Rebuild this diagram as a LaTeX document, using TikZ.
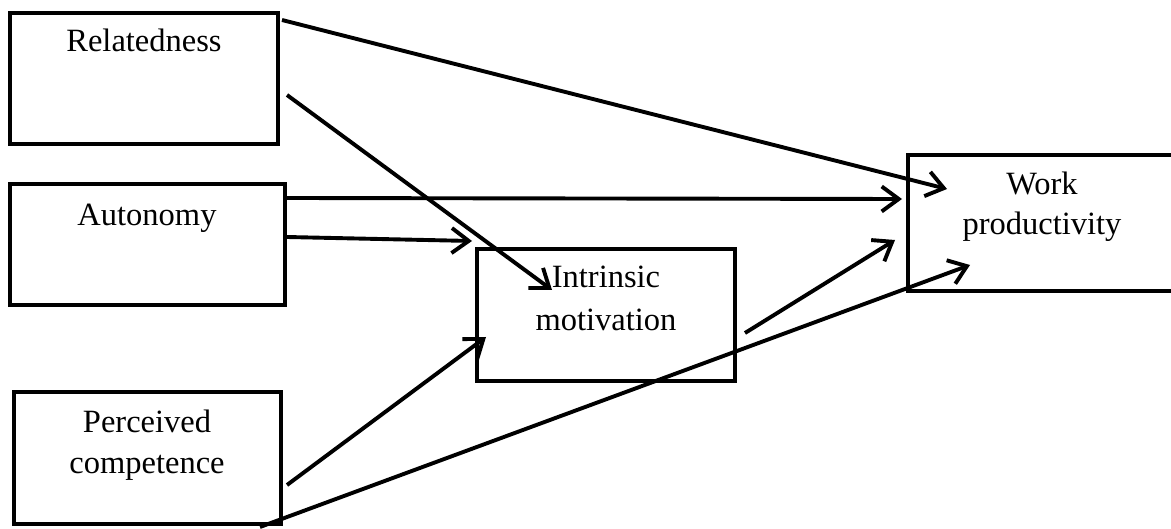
\documentclass[tikz,border=0pt]{standalone}
\usepackage{fontspec}
\setmainfont{Liberation Serif}
\usetikzlibrary{arrows.meta}

\tikzset{
  box/.style={draw, line width=4pt, rectangle, inner sep=0pt, fill=white},
  lbl/.style={anchor=base, inner sep=0pt, font=\fontsize{32.5}{42}\selectfont},
  link/.style={line width=3.9pt, -{Straight Barb[length=17pt,width=25pt,line width=3.9pt]}}
}

\begin{document}
\begin{tikzpicture}[x=1pt, y=-1pt]
  \clip (0,0) rectangle (1171,529);
  \fill[white] (0,0) rectangle (1171,529);

  % boxes
  \node[box, minimum width=268pt, minimum height=131pt] (rel) at (144,78.5) {};
  \node[box, minimum width=275pt, minimum height=121pt] (aut) at (147.5,244.5) {};
  \node[box, minimum width=267pt, minimum height=132pt] (pc)  at (147.5,458) {};
  \node[box, minimum width=258pt, minimum height=132pt] (im)  at (606,315) {};
  \node[box, minimum width=272pt, minimum height=136pt] (wp)  at (1044,223) {};

  % labels
  \node[lbl] (relT) at (144,52) {Relatedness};
  \node[lbl] (autT) at (147,226) {Autonomy};
  \node[lbl] (pcT1) at (147,432) {Perceived};
  \node[lbl] (pcT2) at (147,474) {competence};
  \node[lbl] (imT1) at (606,288) {Intrinsic};
  \node[lbl] (imT2) at (606,331) {motivation};
  \node[lbl] (wpT1) at (1042,195) {Work};
  \node[lbl] (wpT2) at (1042,235) {productivity};

  % connector ends
  \coordinate (relA) at (282,20);
  \coordinate (relB) at (287,95);
  \coordinate (autA) at (287,198);
  \coordinate (autB) at (287,237);
  \coordinate (pcA)  at (287,485);
  \coordinate (pcB)  at (260,527);
  \coordinate (imOut) at (745,333);
  \coordinate (imIn1) at (552,290);
  \coordinate (imIn2) at (472,241);
  \coordinate (imIn3) at (486,337);
  \coordinate (wpIn1) at (947,189);
  \coordinate (wpIn2) at (902,199);
  \coordinate (wpIn3) at (895,240);
  \coordinate (wpIn4) at (970,265);

  % paths
  \draw[link] (relA) -- (wpIn1);
  \draw[link] (relB) -- (imIn1);
  \draw[link] (autA) -- (wpIn2);
  \draw[link] (autB) -- (imIn2);
  \draw[link] (pcA) -- (imIn3);
  \draw[link] (pcB) -- (wpIn4);
  \draw[link] (imOut) -- (wpIn3);
\end{tikzpicture}
\end{document}
